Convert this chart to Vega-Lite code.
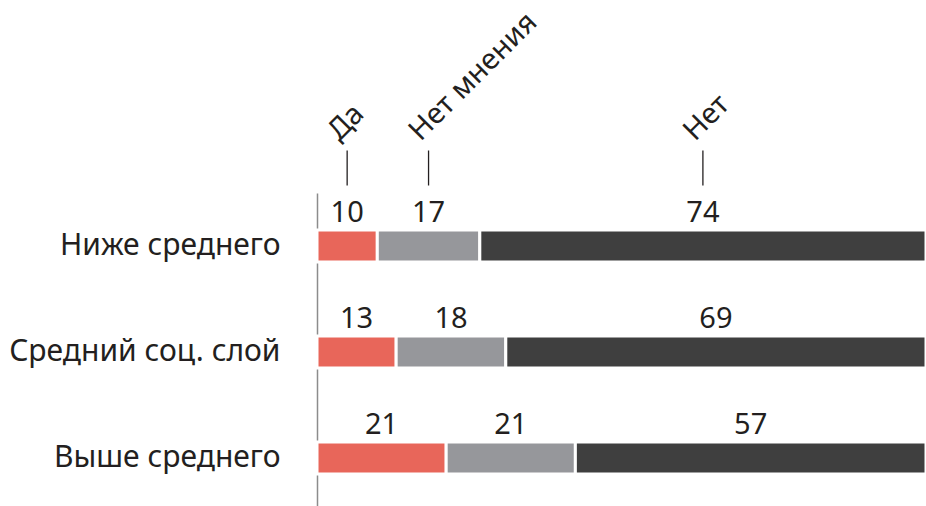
{
  "$schema": "https://vega.github.io/schema/vega-lite/v6.json",
  "autosize": "none",
  "width": 609,
  "height": 318,
  "padding": {"left": 317, "top": 193, "right": 0, "bottom": 0},
  "background": "white",
  "config": {"view": {"stroke": null}, "font": "Noto Sans"},
  "data": {"values": [
    {"group": "Ниже среднего", "answer": "Да", "ord": 1, "value": 10},
    {"group": "Ниже среднего", "answer": "Нет мнения", "ord": 2, "value": 17},
    {"group": "Ниже среднего", "answer": "Нет", "ord": 3, "value": 74},
    {"group": "Средний соц. слой", "answer": "Да", "ord": 1, "value": 13},
    {"group": "Средний соц. слой", "answer": "Нет мнения", "ord": 2, "value": 18},
    {"group": "Средний соц. слой", "answer": "Нет", "ord": 3, "value": 69},
    {"group": "Выше среднего", "answer": "Да", "ord": 1, "value": 21},
    {"group": "Выше среднего", "answer": "Нет мнения", "ord": 2, "value": 21},
    {"group": "Выше среднего", "answer": "Нет", "ord": 3, "value": 57}
  ]},
  "encoding": {
    "y": {
      "field": "group", "type": "nominal",
      "sort": ["Ниже среднего", "Средний соц. слой", "Выше среднего"],
      "scale": {"paddingInner": 0, "paddingOuter": 0},
      "axis": {
        "title": null, "ticks": false, "domainColor": "#8c8c8c", "domainWidth": 1.5,
        "labelFontSize": 30, "labelColor": "#231f20", "labelPadding": 37, "labelFont": "Noto Sans",
        "labelLimit": 0
      }
    }
  },
  "layer": [
    {
      "mark": {"type": "bar", "height": 32, "stroke": "white", "strokeWidth": 3},
      "encoding": {
        "x": {"field": "value", "type": "quantitative", "stack": "normalize",
              "scale": {"domain": [0, 1], "nice": false}, "axis": null},
        "order": {"field": "ord"},
        "color": {"field": "answer", "type": "nominal",
                  "scale": {"domain": ["Да", "Нет мнения", "Нет"], "range": ["#e8665a", "#96979b", "#3f3f3f"]},
                  "legend": null}
      }
    },
    {
      "mark": {"type": "text", "fontSize": 29, "color": "#231f20", "baseline": "alphabetic", "align": "center", "yOffset": -24},
      "encoding": {
        "x": {"field": "value", "type": "quantitative", "stack": "normalize", "bandPosition": 0.5},
        "order": {"field": "ord"},
        "text": {"field": "value", "type": "quantitative"}
      }
    },
    {
      "transform": [{"filter": {"field": "group", "equal": "Ниже среднего"}}],
      "mark": {"type": "point", "shape": "M0,-1L0,1", "size": 1225, "stroke": "#231f20", "strokeWidth": 1.3, "filled": false, "opacity": 1, "yOffset": -78},
      "encoding": {
        "x": {"field": "value", "type": "quantitative", "stack": "normalize", "bandPosition": 0.5},
        "order": {"field": "ord"}
      }
    },
    {
      "transform": [{"filter": {"field": "group", "equal": "Ниже среднего"}}],
      "mark": {"type": "text", "fontSize": 29, "color": "#231f20", "angle": -45, "align": "left", "baseline": "alphabetic", "xOffset": -8, "yOffset": -104},
      "encoding": {
        "x": {"field": "value", "type": "quantitative", "stack": "normalize", "bandPosition": 0.5},
        "order": {"field": "ord"},
        "text": {"field": "answer", "type": "nominal"}
      }
    }
  ]
}
